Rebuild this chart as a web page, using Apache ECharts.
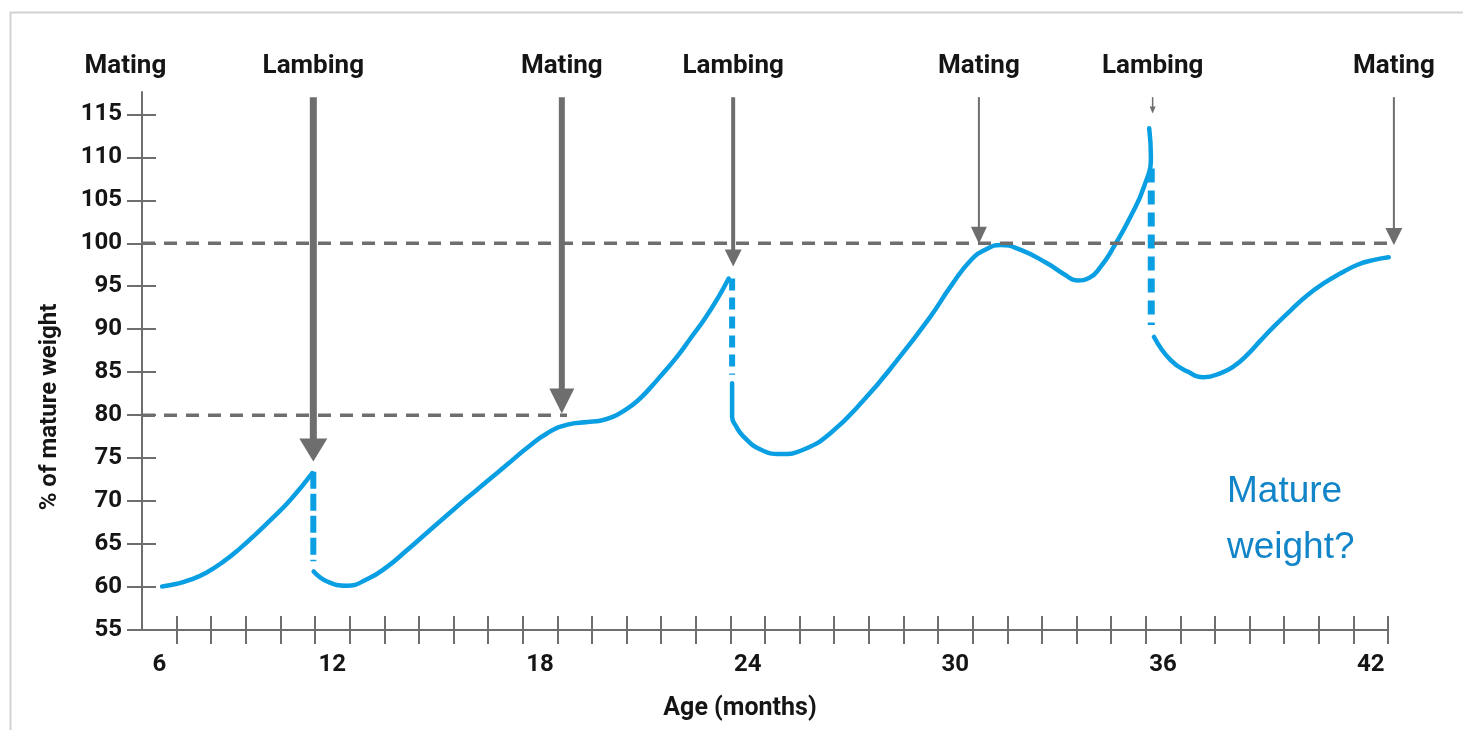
<!DOCTYPE html>
<html>
<head>
<meta charset="utf-8">
<style>
  html, body { margin: 0; padding: 0; background: #ffffff; }
  #chart { width: 1463px; height: 730px; }
</style>
<script src="https://cdn.jsdelivr.net/npm/echarts@6/dist/echarts.min.js"></script>
</head>
<body>
<div id="chart"></div>
<script>
// ---------------- DATA ----------------
// Age in months (x), % of mature weight (y)
const seg1 = [[7.08,60.07],[7.51,60.38],[7.90,60.85],[8.37,61.70],[8.86,62.98],[9.34,64.53],[9.82,66.28],[10.30,68.14],[10.79,70.15],[11.42,73.26]];
const seg2 = [[11.46,61.81],[11.85,60.65],[12.42,60.15],[13.0,60.9],[13.58,62.35],[14.16,64.3],[14.74,66.35],[15.32,68.38],[15.89,70.35],[16.47,72.3],[17.05,74.25],[17.63,76.2],[18.21,77.9],[18.79,78.9],[19.37,79.2],[19.74,79.35],[20.1,79.8],[20.42,80.5],[20.81,81.65],[21.19,83.2],[21.58,85.0],[21.96,86.8],[22.35,88.95],[22.74,91.1],[23.12,93.5],[23.45,95.9]];
const seg3 = [[23.55,83.7],[23.55,79.8],[23.65,78.8],[23.88,77.5],[24.37,76.0],[24.95,75.47],[25.62,76.0],[26.39,77.9],[27.36,81.78],[28.32,86.4],[29.28,91.47],[29.86,94.95],[30.44,98.0],[30.89,99.3],[31.31,99.8],[31.89,99.22],[32.65,97.67],[33.13,96.43],[33.52,95.68],[33.86,95.95],[34.2,97.28],[34.58,99.6],[35.06,103.09],[35.45,106.58],[35.65,110.07],[35.6,113.37]];
const seg4 = [[35.74,89.1],[36.22,86.4],[36.71,85.07],[37.18,84.42],[37.67,84.9],[38.05,85.7],[38.43,87.0],[38.82,88.7],[39.2,90.3],[39.69,92.2],[40.17,93.95],[40.65,95.35],[41.13,96.5],[41.62,97.5],[42.1,98.06],[42.52,98.37]];

// Weight drop at lambing (dashed blue verticals)
const lambDropMonth = [11.45, 23.55, 35.66];
const lambDropFrom  = [73.4, 95.9, 108.7];
const lambDropTo    = [63.0, 84.7, 90.5];

// Events along the top
const eventNames  = ['Mating','Lambing','Mating','Lambing','Mating','Lambing','Mating'];
const eventMonths = [6.02, 11.45, 18.63, 23.58, 30.68, 35.7, 42.67];
const arrowTips   = [null, 74.6, 80.2, 97.3, 99.93, 115.1, 99.8];

// Reference levels (dashed grey)
const refValues = [100, 80];
const refEnds   = [42.96, 18.78];

// Axis ticks / labels
const yTicks = [55,60,65,70,75,80,85,90,95,100,105,110,115];
const xTickLabels = [6,12,18,24,30,36,42];

// ---------------- STYLE ----------------
const BLUE = '#0a9fe2';
const GREY = '#6e6e6e';
const TXT = '#151515';
const FONT = 'Roboto, "DejaVu Sans", sans-serif';
const ARROW_TOP = 117.0;
const LABEL_LEVEL = 120.6;
const arrowStyle = [
  null,
  { shaft: 7, headW: 28, headH: 23 },
  { shaft: 6, headW: 25, headH: 25 },
  { shaft: 4, headW: 17, headH: 17 },
  { shaft: 2, headW: 16, headH: 17 },
  { shaft: 1.5, headW: 6, headH: 7 },
  { shaft: 2, headW: 17, headH: 17 }
];
const dropStyle = [
  { width: 6, dash: [17, 5] },
  { width: 6, dash: [12, 7] },
  { width: 7, dash: [14, 8] }
];

// x ticks sit on month boundaries; labels are centered on months
const xTickVals = [];
for (let k = 7.5; k <= 42.5; k += 1) xTickVals.push(k);
const xLabelAt = xTickLabels.map(v => Math.max(v, 7)); // first label drawn inside the first band

const chart = echarts.init(document.getElementById('chart'), null, { renderer: 'canvas' });

const series = [];
[seg1, seg2, seg3, seg4].forEach((s, i) => {
  series.push({
    type: 'line', name: 'seg' + (i + 1), data: s, smooth: 0.5, symbol: 'none',
    lineStyle: { color: BLUE, width: 4.5, cap: 'round', join: 'round' }, z: 3, silent: true
  });
});
lambDropMonth.forEach((m, i) => {
  series.push({
    type: 'line', data: [[m, lambDropFrom[i]], [m, lambDropTo[i]]], symbol: 'none',
    lineStyle: { color: BLUE, width: dropStyle[i].width, type: dropStyle[i].dash }, z: 3, silent: true
  });
});
refValues.forEach((v, i) => {
  series.push({
    type: 'line', data: [[6.5, v], [refEnds[i], v]], symbol: 'none', clip: false,
    lineStyle: { color: GREY, width: 3.5, type: [13, 9] }, z: 4, silent: true
  });
});
// arrows
const arrowData = [];
eventMonths.forEach((m, i) => { if (arrowTips[i] != null) arrowData.push([m, arrowTips[i], i]); });
series.push({
  type: 'custom', data: arrowData, clip: false, z: 5, silent: true,
  renderItem: function (params, api) {
    const m = api.value(0), tipV = api.value(1), idx = api.value(2);
    const st = arrowStyle[idx];
    const top = api.coord([m, ARROW_TOP]);
    const tip = api.coord([m, tipV]);
    return {
      type: 'group',
      children: [
        { type: 'line', shape: { x1: top[0], y1: top[1], x2: tip[0], y2: tip[1] - st.headH + 1 },
          style: { stroke: GREY, lineWidth: st.shaft } },
        { type: 'polygon', shape: { points: [[tip[0], tip[1]], [tip[0] - st.headW / 2, tip[1] - st.headH], [tip[0] + st.headW / 2, tip[1] - st.headH]] },
          style: { fill: GREY } }
      ]
    };
  }
});
// event labels
series.push({
  type: 'custom', data: eventMonths.map((m, i) => [m, LABEL_LEVEL, i]), clip: false, z: 5, silent: true,
  renderItem: function (params, api) {
    const p = api.coord([api.value(0), api.value(1)]);
    return {
      type: 'text', x: p[0], y: p[1],
      style: { text: eventNames[api.value(2)], fill: TXT, font: 'bold 26px ' + FONT,
               textAlign: 'center', textVerticalAlign: 'middle' }
    };
  }
});

const axisLineStyle = { color: GREY, width: 2 };
const option = {
  backgroundColor: '#ffffff',
  animation: false,
  grid: { left: 142, right: 75, top: 92, bottom: 100, outerBoundsMode: 'none' },
  title: {
    text: 'Mature\nweight?', left: 1222, top: 459,
    textStyle: { fontFamily: '"Liberation Sans", Arial, sans-serif', fontSize: 37, fontWeight: 'normal', color: '#1284c8', lineHeight: 56 }
  },
  graphic: [{
    type: 'rect', left: 8, top: 10, shape: { width: 1480, height: 760 },
    style: { fill: 'none', stroke: '#d2d2d2', lineWidth: 2 }, silent: true
  }],
  xAxis: [
    {
      type: 'value', min: 6.5, max: 42.5, position: 'bottom',
      name: 'Age (months)', nameLocation: 'middle', nameGap: 66,
      nameTextStyle: { fontFamily: FONT, fontWeight: 'bold', fontSize: 25, color: TXT, padding: [0, 50, 0, 0] },
      axisLine: { show: true, lineStyle: axisLineStyle },
      axisTick: { show: true, customValues: xTickVals, length: 14, lineStyle: axisLineStyle },
      axisLabel: {
        show: true, customValues: xLabelAt, margin: 23,
        formatter: v => String(xTickLabels[xLabelAt.indexOf(v)]),
        fontFamily: FONT, fontWeight: 'bold', fontSize: 24, color: TXT
      },
      splitLine: { show: false }
    },
    {
      type: 'value', min: 6.5, max: 42.5, position: 'bottom',
      axisLine: { show: false },
      axisTick: { show: true, inside: true, customValues: xTickVals, length: 14, lineStyle: axisLineStyle },
      axisLabel: { show: false },
      splitLine: { show: false }
    }
  ],
  yAxis: [
    {
      type: 'value', min: 55, max: 117.6, position: 'left',
      name: '% of mature weight', nameLocation: 'middle', nameGap: 80,
      nameTextStyle: { fontFamily: FONT, fontWeight: 'bold', fontSize: 24, color: TXT, padding: [0, 92, 0, 0] },
      axisLine: { show: true, lineStyle: axisLineStyle },
      axisTick: { show: true, customValues: yTicks, length: 15, lineStyle: axisLineStyle },
      axisLabel: {
        show: true, customValues: yTicks, margin: 20,
        fontFamily: FONT, fontWeight: 'bold', fontSize: 24, color: TXT
      },
      splitLine: { show: false }
    },
    {
      type: 'value', min: 55, max: 117.6, position: 'left',
      axisLine: { show: false },
      axisTick: { show: true, inside: true, customValues: yTicks, length: 14, lineStyle: axisLineStyle },
      axisLabel: { show: false },
      splitLine: { show: false }
    }
  ],
  series: series
};
chart.setOption(option);
</script>
</body>
</html>
